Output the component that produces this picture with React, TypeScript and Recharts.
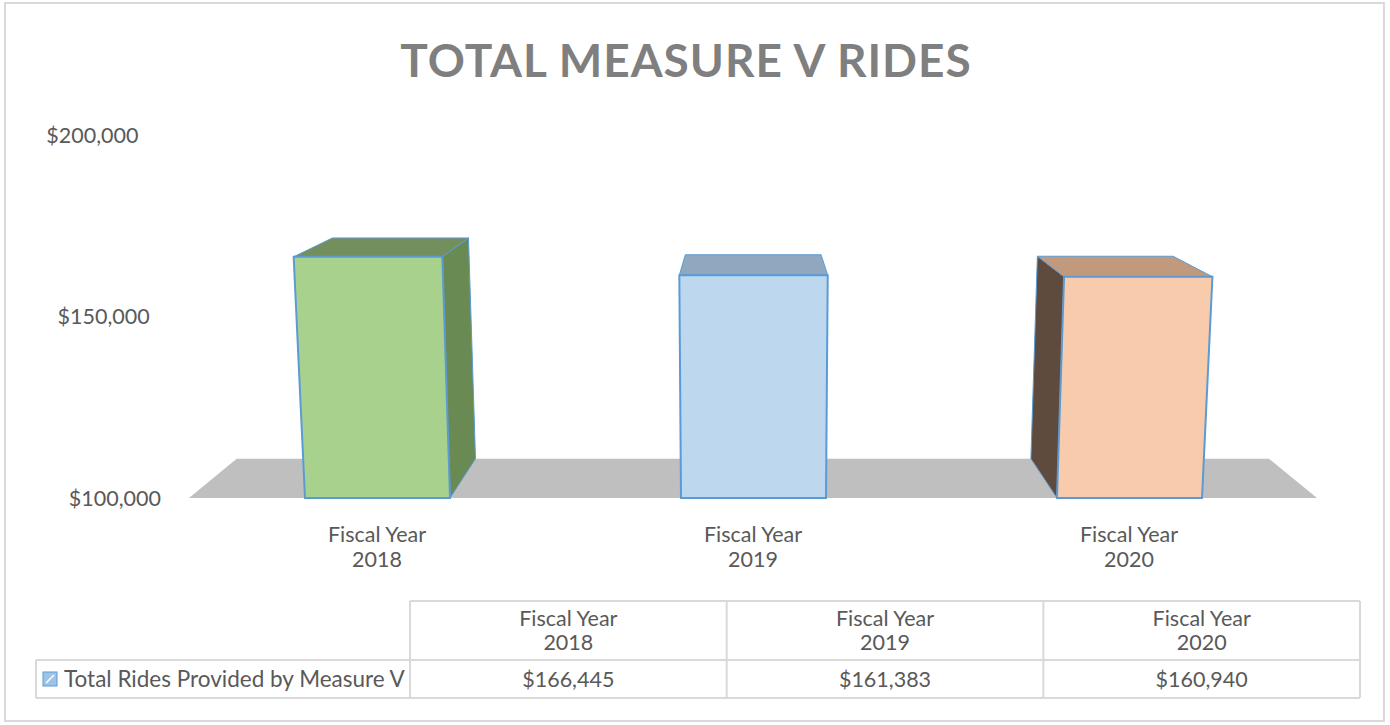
import React from "react";
import { BarChart, Bar, XAxis, YAxis, ReferenceArea } from "recharts";

const TITLE = "TOTAL MEASURE V RIDES";
const SERIES_NAME = "Total Rides Provided by Measure V";
const CATEGORIES = ["Fiscal Year 2018", "Fiscal Year 2019", "Fiscal Year 2020"];
const RIDES = [166445, 161383, 160940];
const Y_TICKS = [100000, 150000, 200000];

const FRONT = ["#a9d18e", "#bdd7ee", "#f8cbad"];
const SIDE = ["#6a8a53", "#7f9bb5", "#5f4b3e"];
const TOP = ["#738f5e", "#8fa8c0", "#c1997d"];
const EDGE = "#5b9bd5";
const TEXT = "#595959";
const GRID = "#d9d9d9";
const FONT = "Lato, 'Open Sans', sans-serif";

const W = 1390;
const H = 725;
const CHART_H = 600;
const MARGIN = { top: 135, right: 73, bottom: 42, left: 39 };
const Y_AXIS_W = 150;
const X_AXIS_H = 60;
const PLOT_LEFT = MARGIN.left + Y_AXIS_W;
const PLOT_RIGHT = W - MARGIN.right;
const PLOT_BOTTOM = CHART_H - MARGIN.bottom - X_AXIS_H;
const CX = (PLOT_LEFT + PLOT_RIGHT) / 2;

// fake 3d camera: horizontal lean + vanishing point for depth
const K = 0.000105;
const VP = { x: 750, y: 35 };
const DEPTH = 0.085;

const data = CATEGORIES.map((name, i) => ({ name, value: RIDES[i] }));

const persp = (fy: number) => 1 + (PLOT_BOTTOM - fy) * K;
const proj = (fx: number, fy: number) => ({ x: CX + (fx - CX) * persp(fy), y: fy });
const back = (p: { x: number; y: number }) => ({
  x: p.x + DEPTH * (VP.x - p.x),
  y: p.y + DEPTH * (VP.y - p.y),
});
const pts = (arr: { x: number; y: number }[]) => arr.map((p) => `${p.x},${p.y}`).join(" ");

const money = (v: number) => "$" + v.toLocaleString("en-US");

const Bar3D = (props: any) => {
  const { x, y, width, height, index } = props;
  const ftl = proj(x, y);
  const ftr = proj(x + width, y);
  const fbl = proj(x, y + height);
  const fbr = proj(x + width, y + height);
  const btl = back(ftl);
  const btr = back(ftr);
  const bbl = back(fbl);
  const bbr = back(fbr);
  return (
    <g>
      {btr.x > ftr.x && (
        <polygon points={pts([ftr, btr, bbr, fbr])} fill={SIDE[index]} stroke={EDGE} strokeWidth={1} />
      )}
      {btl.x < ftl.x && (
        <polygon points={pts([ftl, btl, bbl, fbl])} fill={SIDE[index]} stroke={EDGE} strokeWidth={1} />
      )}
      <polygon points={pts([ftl, ftr, btr, btl])} fill={TOP[index]} stroke={EDGE} strokeWidth={1} />
      <polygon points={pts([ftl, ftr, fbr, fbl])} fill={FRONT[index]} stroke={EDGE} strokeWidth={2} />
    </g>
  );
};

const Floor = (props: any) => {
  const { x, y, width, height } = props;
  const fl = { x, y: y + height };
  const fr = { x: x + width, y: y + height };
  return <polygon points={pts([fl, fr, back(fr), back(fl)])} fill="#bfbfbf" />;
};

const XTick = (props: any) => {
  const { x, y, payload } = props;
  const s = String(payload.value);
  const cut = s.lastIndexOf(" ");
  return (
    <text x={x} y={y} textAnchor="middle" fill={TEXT} fontSize={21.5} fontFamily={FONT}>
      <tspan x={x} dy={36}>{s.slice(0, cut)}</tspan>
      <tspan x={x} dy={25}>{s.slice(cut + 1)}</tspan>
    </text>
  );
};

const YTick = (props: any) => {
  const { y, payload } = props;
  const tx = CX - (CX - (PLOT_LEFT - 28)) * persp(y);
  return (
    <text x={tx} y={y} dy="0.35em" textAnchor="end" fill={TEXT} fontSize={21.5} fontFamily={FONT}>
      {money(payload.value)}
    </text>
  );
};

// data table under the chart
const TABLE_LEFT = 36;
const COL_LEFT = 410;
const COL_RIGHT = 1360;
const ROW_TOP = 601;
const ROW_MID = 660;
const ROW_BOTTOM = 698;

export default function App() {
  const colW = (COL_RIGHT - COL_LEFT) / CATEGORIES.length;
  return (
    <div style={{ position: "absolute", left: 0, top: 0, width: W, height: H, background: "#fff", fontFamily: FONT }}>
      <svg width={W} height={H} style={{ position: "absolute", left: 0, top: 0 }}>
        <rect x={5} y={3} width={1379} height={718} fill="none" stroke={GRID} strokeWidth={2} />
        <text x={686} y={77} textAnchor="middle" fontSize={46} fontWeight={700} fill="#7f7f7f" letterSpacing={1} fontFamily={FONT}>
          {TITLE}
        </text>
        <g stroke={GRID} strokeWidth={2}>
          <line x1={COL_LEFT} y1={ROW_TOP} x2={COL_RIGHT} y2={ROW_TOP} />
          <line x1={TABLE_LEFT} y1={ROW_MID} x2={COL_RIGHT} y2={ROW_MID} />
          <line x1={TABLE_LEFT} y1={ROW_BOTTOM} x2={COL_RIGHT} y2={ROW_BOTTOM} />
          <line x1={TABLE_LEFT} y1={ROW_MID} x2={TABLE_LEFT} y2={ROW_BOTTOM} />
          {CATEGORIES.map((_, i) => (
            <line key={i} x1={COL_LEFT + i * colW} y1={ROW_TOP} x2={COL_LEFT + i * colW} y2={ROW_BOTTOM} />
          ))}
          <line x1={COL_RIGHT} y1={ROW_TOP} x2={COL_RIGHT} y2={ROW_BOTTOM} />
        </g>
        {CATEGORIES.map((c, i) => {
          const cx = COL_LEFT + (i + 0.5) * colW;
          const cut = c.lastIndexOf(" ");
          return (
            <g key={c} fill={TEXT} fontSize={21.5} fontFamily={FONT} textAnchor="middle">
              <text x={cx} y={626}>{c.slice(0, cut)}</text>
              <text x={cx} y={650}>{c.slice(cut + 1)}</text>
              <text x={cx} y={687}>{money(RIDES[i])}</text>
            </g>
          );
        })}
        <rect x={43} y={672} width={14} height={14} fill="#9dc3e6" stroke={EDGE} strokeWidth={1} />
        <line x1={46} y1={683} x2={54} y2={675} stroke="#ffffff" strokeWidth={1.5} />
        <text x={64} y={687} fill={TEXT} fontSize={22.5} fontFamily={FONT}>
          {SERIES_NAME}
        </text>
      </svg>
      <div style={{ position: "absolute", left: 0, top: 0 }}>
        <BarChart width={W} height={CHART_H} data={data} margin={MARGIN}>
          <XAxis dataKey="name" height={X_AXIS_H} axisLine={false} tickLine={false} interval={0} tick={<XTick />} />
          <YAxis
            width={Y_AXIS_W}
            domain={[Y_TICKS[0], Y_TICKS[Y_TICKS.length - 1]]}
            ticks={Y_TICKS}
            axisLine={false}
            tickLine={false}
            tick={<YTick />}
          />
          <ReferenceArea y1={Y_TICKS[0]} y2={Y_TICKS[Y_TICKS.length - 1]} shape={<Floor />} />
          <Bar dataKey="value" barSize={145} shape={<Bar3D />} isAnimationActive={false} />
        </BarChart>
      </div>
    </div>
  );
}
